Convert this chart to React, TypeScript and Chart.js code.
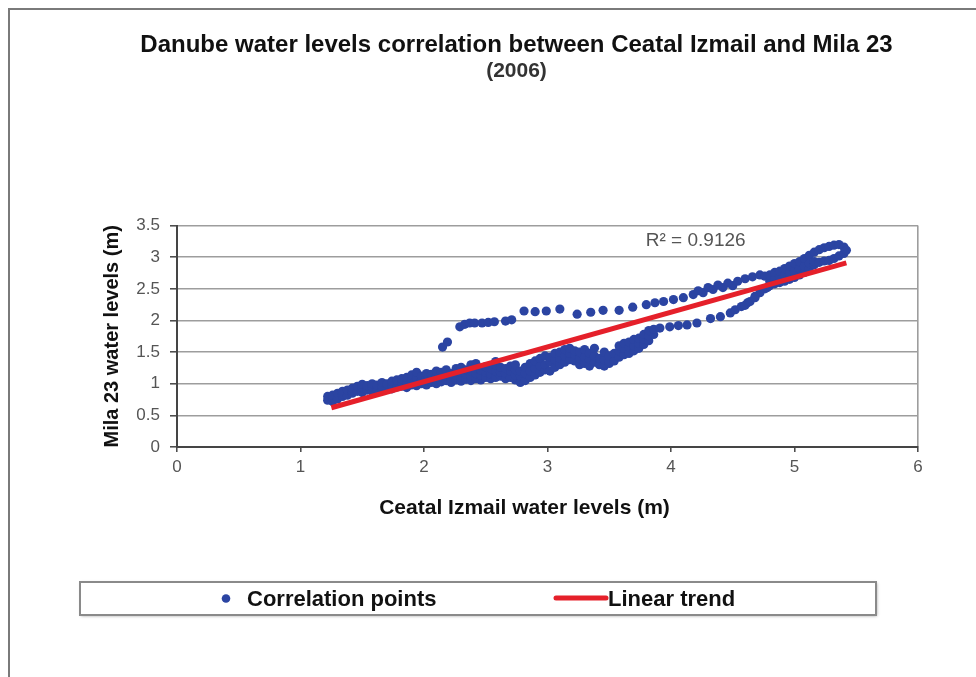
import React, { useEffect, useRef } from "react";
import { Chart, registerables } from "chart.js";

Chart.register(...registerables);

// ---------- texts ----------
const titleText = "Danube water levels correlation between Ceatal Izmail and Mila 23";
const subtitleText = "(2006)";
const xAxisTitle = "Ceatal Izmail water levels (m)";
const yAxisTitle = "Mila 23 water levels (m)";
const pointsLabel = "Correlation points";
const trendLabel = "Linear trend";
const rSquaredText = "R\u00B2 = 0.9126";

// ---------- ticks ----------
const xTicks = [0, 1, 2, 3, 4, 5, 6];
const yTicks = [0, 0.5, 1, 1.5, 2, 2.5, 3, 3.5];

// ---------- data: [Ceatal Izmail level, Mila 23 level] ----------
const lowerBand: [number, number][] = [
  [1.22, 0.74], [1.22, 0.8],
  [1.26, 0.72], [1.26, 0.78], [1.26, 0.82],
  [1.3, 0.76], [1.3, 0.85],
  [1.34, 0.8], [1.34, 0.84], [1.34, 0.88],
  [1.38, 0.82], [1.38, 0.9],
  [1.42, 0.85], [1.42, 0.88], [1.42, 0.93],
  [1.46, 0.88], [1.46, 0.96],
  [1.5, 0.86], [1.5, 0.94], [1.5, 0.99],
  [1.54, 0.9], [1.54, 0.97],
  [1.58, 0.88], [1.58, 0.95], [1.58, 1.0],
  [1.62, 0.91], [1.62, 0.98],
  [1.66, 0.9], [1.66, 0.96], [1.66, 1.02],
  [1.7, 0.93], [1.7, 1.0],
  [1.74, 0.92], [1.74, 0.98], [1.74, 1.04],
  [1.78, 0.95], [1.78, 1.06],
  [1.82, 0.96], [1.82, 1.02], [1.82, 1.08],
  [1.86, 0.94], [1.86, 1.0], [1.86, 1.1],
  [1.9, 0.98], [1.9, 1.05], [1.9, 1.14],
  [1.94, 0.97], [1.94, 1.08], [1.94, 1.18],
  [1.98, 1.0], [1.98, 1.06], [1.98, 1.12],
  [2.02, 0.98], [2.02, 1.04], [2.02, 1.1], [2.02, 1.16],
  [2.06, 1.02], [2.06, 1.09], [2.06, 1.15],
  [2.1, 1.0], [2.1, 1.07], [2.1, 1.13], [2.1, 1.2],
  [2.14, 1.03], [2.14, 1.1], [2.14, 1.18],
  [2.18, 1.05], [2.18, 1.12], [2.18, 1.22],
  [2.22, 1.02], [2.22, 1.08], [2.22, 1.16],
  [2.26, 1.06], [2.26, 1.13], [2.26, 1.24],
  [2.3, 1.04], [2.3, 1.1], [2.3, 1.18], [2.3, 1.26],
  [2.34, 1.07], [2.34, 1.15], [2.34, 1.22],
  [2.38, 1.05], [2.38, 1.12], [2.38, 1.2], [2.38, 1.3],
  [2.42, 1.08], [2.42, 1.16], [2.42, 1.25], [2.42, 1.32],
  [2.46, 1.06], [2.46, 1.14], [2.46, 1.22],
  [2.5, 1.1], [2.5, 1.18], [2.5, 1.27],
  [2.54, 1.08], [2.54, 1.15], [2.54, 1.24],
  [2.58, 1.1], [2.58, 1.2], [2.58, 1.3], [2.58, 1.35],
  [2.62, 1.12], [2.62, 1.18], [2.62, 1.26],
  [2.66, 1.08], [2.66, 1.16], [2.66, 1.24],
  [2.7, 1.1], [2.7, 1.2], [2.7, 1.28],
  [2.74, 1.06], [2.74, 1.14], [2.74, 1.22], [2.74, 1.3],
  [2.78, 1.02], [2.78, 1.12], [2.78, 1.2],
  [2.82, 1.05], [2.82, 1.16], [2.82, 1.26],
  [2.86, 1.1], [2.86, 1.2], [2.86, 1.32],
  [2.9, 1.14], [2.9, 1.24], [2.9, 1.36],
  [2.94, 1.18], [2.94, 1.28], [2.94, 1.4],
  [2.98, 1.22], [2.98, 1.3], [2.98, 1.44],
  [3.02, 1.2], [3.02, 1.34], [3.02, 1.42],
  [3.06, 1.26], [3.06, 1.38], [3.06, 1.48],
  [3.1, 1.3], [3.1, 1.4], [3.1, 1.5],
  [3.14, 1.34], [3.14, 1.44], [3.14, 1.54],
  [3.18, 1.38], [3.18, 1.48], [3.18, 1.56],
  [3.22, 1.36], [3.22, 1.46], [3.22, 1.52],
  [3.26, 1.3], [3.26, 1.4], [3.26, 1.5],
  [3.3, 1.32], [3.3, 1.42], [3.3, 1.54],
  [3.34, 1.28], [3.34, 1.38], [3.34, 1.48],
  [3.38, 1.34], [3.38, 1.44], [3.38, 1.56],
  [3.42, 1.3], [3.42, 1.4],
  [3.46, 1.28], [3.46, 1.38], [3.46, 1.5],
  [3.5, 1.32], [3.5, 1.36], [3.5, 1.44],
  [3.54, 1.36], [3.54, 1.48],
  [3.58, 1.42], [3.58, 1.52], [3.58, 1.6],
  [3.62, 1.46], [3.62, 1.56], [3.62, 1.64],
  [3.66, 1.48], [3.66, 1.58], [3.66, 1.66],
  [3.7, 1.52], [3.7, 1.6], [3.7, 1.7],
  [3.74, 1.56], [3.74, 1.64], [3.74, 1.72],
  [3.78, 1.62], [3.78, 1.7], [3.78, 1.78],
  [3.82, 1.68], [3.82, 1.76], [3.82, 1.84],
  [3.86, 1.78], [3.86, 1.86],
];

const upperChain: [number, number][] = [
  [2.15, 1.58], [2.19, 1.66], [2.29, 1.9], [2.33, 1.94], [2.37, 1.96],
  [2.41, 1.96], [2.47, 1.96], [2.52, 1.97], [2.57, 1.98], [2.66, 1.99],
  [2.71, 2.01], [2.81, 2.15], [2.9, 2.14], [2.99, 2.15], [3.1, 2.18],
  [3.24, 2.1], [3.35, 2.13], [3.45, 2.16], [3.58, 2.16], [3.69, 2.21],
  [3.8, 2.25], [3.87, 2.28], [3.94, 2.3], [4.02, 2.33], [4.1, 2.36],
  [4.18, 2.41], [4.26, 2.44], [4.34, 2.49], [4.42, 2.52], [4.5, 2.55],
  [4.22, 2.47], [4.3, 2.52], [4.38, 2.56], [4.46, 2.59], [4.54, 2.62],
  [4.6, 2.66], [4.66, 2.69], [4.72, 2.72],
];

const lowerChain: [number, number][] = [
  [3.91, 1.88], [3.99, 1.9], [4.06, 1.92], [4.13, 1.93], [4.21, 1.96],
  [4.32, 2.03], [4.4, 2.06], [4.48, 2.12], [4.52, 2.17], [4.57, 2.22],
  [4.62, 2.28], [4.68, 2.38], [4.72, 2.44], [4.78, 2.52],
];

const upperEnd: [number, number][] = [
  [4.6, 2.24], [4.64, 2.3], [4.68, 2.36], [4.76, 2.5], [4.76, 2.7],
  [4.8, 2.55], [4.8, 2.62], [4.8, 2.72],
  [4.84, 2.58], [4.84, 2.66], [4.84, 2.76],
  [4.88, 2.6], [4.88, 2.68], [4.88, 2.78],
  [4.92, 2.62], [4.92, 2.72], [4.92, 2.82],
  [4.96, 2.65], [4.96, 2.74], [4.96, 2.86],
  [5.0, 2.68], [5.0, 2.78], [5.0, 2.9],
  [5.04, 2.72], [5.04, 2.82], [5.04, 2.93],
  [5.08, 2.76], [5.08, 2.86], [5.08, 2.98],
  [5.12, 2.82], [5.12, 2.9], [5.12, 3.03],
  [5.16, 2.88], [5.16, 2.93], [5.16, 3.08],
  [5.2, 2.92], [5.2, 3.12],
  [5.24, 2.94], [5.24, 3.15],
  [5.28, 2.95], [5.28, 3.17],
  [5.32, 2.98], [5.32, 3.19],
  [5.36, 3.02], [5.36, 3.2],
  [5.4, 3.06], [5.4, 3.16],
  [5.42, 3.11],
];

const trendX = [1.25, 5.42];
const trendY = [0.62, 2.91];

// ---------- styles ----------
const FONT = "'Liberation Sans', Arial, Helvetica, sans-serif";
const POINT_COLOR = "#2b44a2";
const TREND_COLOR = "#e5202a";
const GRID_COLOR = "#9d9d9d";
const AXIS_COLOR = "#454545";

const decorPlugin = {
  id: "decor",
  beforeDraw(chart: any) {
    const ctx = chart.ctx;
    ctx.save();
    ctx.fillStyle = "#ffffff";
    ctx.fillRect(0, 0, chart.width, chart.height);
    ctx.strokeStyle = "#7a7a7a";
    ctx.lineWidth = 2;
    ctx.beginPath();
    ctx.moveTo(9, chart.height);
    ctx.lineTo(9, 9);
    ctx.lineTo(chart.width, 9);
    ctx.stroke();
    ctx.restore();
  },
  afterDraw(chart: any) {
    const ctx = chart.ctx;
    const xs = chart.scales.x;
    const ys = chart.scales.y;
    ctx.save();
    // R squared annotation
    ctx.font = `19px ${FONT}`;
    ctx.fillStyle = "#555555";
    ctx.textAlign = "center";
    ctx.textBaseline = "middle";
    ctx.fillText(rSquaredText, xs.getPixelForValue(4.2), ys.getPixelForValue(3.26));

    // x axis title
    ctx.font = `bold 21px ${FONT}`;
    ctx.fillStyle = "#111111";
    ctx.fillText(xAxisTitle, 524.5, 508);

    // legend box
    ctx.save();
    ctx.shadowColor = "rgba(0,0,0,0.35)";
    ctx.shadowBlur = 3;
    ctx.shadowOffsetX = 1;
    ctx.shadowOffsetY = 1;
    ctx.fillStyle = "#ffffff";
    ctx.fillRect(80, 582, 796, 33);
    ctx.restore();
    ctx.strokeStyle = "#8a8a8a";
    ctx.lineWidth = 2;
    ctx.strokeRect(80, 582, 796, 33);

    // legend: points
    ctx.fillStyle = POINT_COLOR;
    ctx.beginPath();
    ctx.arc(226, 598.5, 4.3, 0, Math.PI * 2);
    ctx.fill();
    ctx.font = `bold 22px ${FONT}`;
    ctx.fillStyle = "#111111";
    ctx.textAlign = "left";
    ctx.fillText(pointsLabel, 247, 600);

    // legend: trend
    ctx.strokeStyle = TREND_COLOR;
    ctx.lineWidth = 5;
    ctx.lineCap = "round";
    ctx.beginPath();
    ctx.moveTo(556, 598);
    ctx.lineTo(606, 598);
    ctx.stroke();
    ctx.fillText(trendLabel, 608, 600);
    ctx.restore();
  },
};

const allPoints = [...lowerBand, ...upperChain, ...lowerChain, ...upperEnd];

export default function App() {
  const canvasRef = useRef<HTMLCanvasElement | null>(null);

  useEffect(() => {
    document.body.style.margin = "0";
    const canvas = canvasRef.current;
    if (!canvas) return;
    const chart = new Chart(canvas, {
      type: "scatter",
      data: {
        datasets: [
          {
            type: "line",
            label: trendLabel,
            data: trendX.map((x, i) => ({ x, y: trendY[i] })),
            borderColor: TREND_COLOR,
            borderWidth: 5,
            pointRadius: 0,
            fill: false,
            order: 0,
          } as any,
          {
            type: "scatter",
            label: pointsLabel,
            data: allPoints.map(([x, y]) => ({ x, y })),
            backgroundColor: POINT_COLOR,
            borderColor: POINT_COLOR,
            borderWidth: 0,
            pointRadius: 4.6,
            order: 1,
          },
        ],
      },
      options: {
        responsive: false,
        animation: false,
        layout: { padding: { left: 115, right: 58, top: 20, bottom: 150 } },
        plugins: {
          legend: { display: false },
          tooltip: { enabled: false },
          title: {
            display: true,
            text: titleText,
            color: "#111111",
            font: { family: FONT, size: 24, weight: "bold" },
            padding: { top: 10.6, bottom: 0 },
          },
          subtitle: {
            display: true,
            text: subtitleText,
            color: "#333333",
            font: { family: FONT, size: 21, weight: "bold" },
            padding: { top: -1, bottom: 142 },
          },
        },
        scales: {
          x: {
            type: "linear",
            min: xTicks[0],
            max: xTicks[xTicks.length - 1],
            afterBuildTicks: (scale: any) => {
              scale.ticks = xTicks.map((v) => ({ value: v }));
            },
            afterFit: (scale: any) => {
              scale.height = 80;
            },
            ticks: {
              color: "#555555",
              font: { family: FONT, size: 17 },
              padding: 5,
              maxRotation: 0,
              callback: (v: any) => String(v),
            },
            grid: {
              drawOnChartArea: true,
              color: (c: any) => (c.tick && c.tick.value === 6 ? GRID_COLOR : "rgba(0,0,0,0)"),
              lineWidth: 1.6,
              tickLength: 5,
              tickColor: AXIS_COLOR,
              tickWidth: 1.5,
            },
            border: { color: AXIS_COLOR, width: 2 },
            title: { display: false },
          },
          y: {
            type: "linear",
            min: yTicks[0],
            max: yTicks[yTicks.length - 1],
            afterBuildTicks: (scale: any) => {
              scale.ticks = yTicks.map((v) => ({ value: v }));
            },
            afterFit: (scale: any) => {
              scale.width = 62;
            },
            ticks: {
              color: "#555555",
              font: { family: FONT, size: 17 },
              padding: 10,
              callback: (v: any) => String(v),
            },
            grid: {
              color: GRID_COLOR,
              lineWidth: 1.6,
              tickLength: 7,
              tickColor: AXIS_COLOR,
              tickWidth: 1.5,
            },
            border: { color: AXIS_COLOR, width: 2 },
            title: {
              display: true,
              text: yAxisTitle,
              color: "#111111",
              font: { family: FONT, size: 20, weight: "bold" },
              padding: { top: -15, bottom: 0 },
            },
          },
        },
      },
      plugins: [decorPlugin],
    });
    return () => chart.destroy();
  }, []);

  return (
    <div style={{ width: 976, height: 677, position: "relative", background: "#fff" }}>
      <canvas ref={canvasRef} width={976} height={677} style={{ display: "block", width: 976, height: 677 }} />
    </div>
  );
}
